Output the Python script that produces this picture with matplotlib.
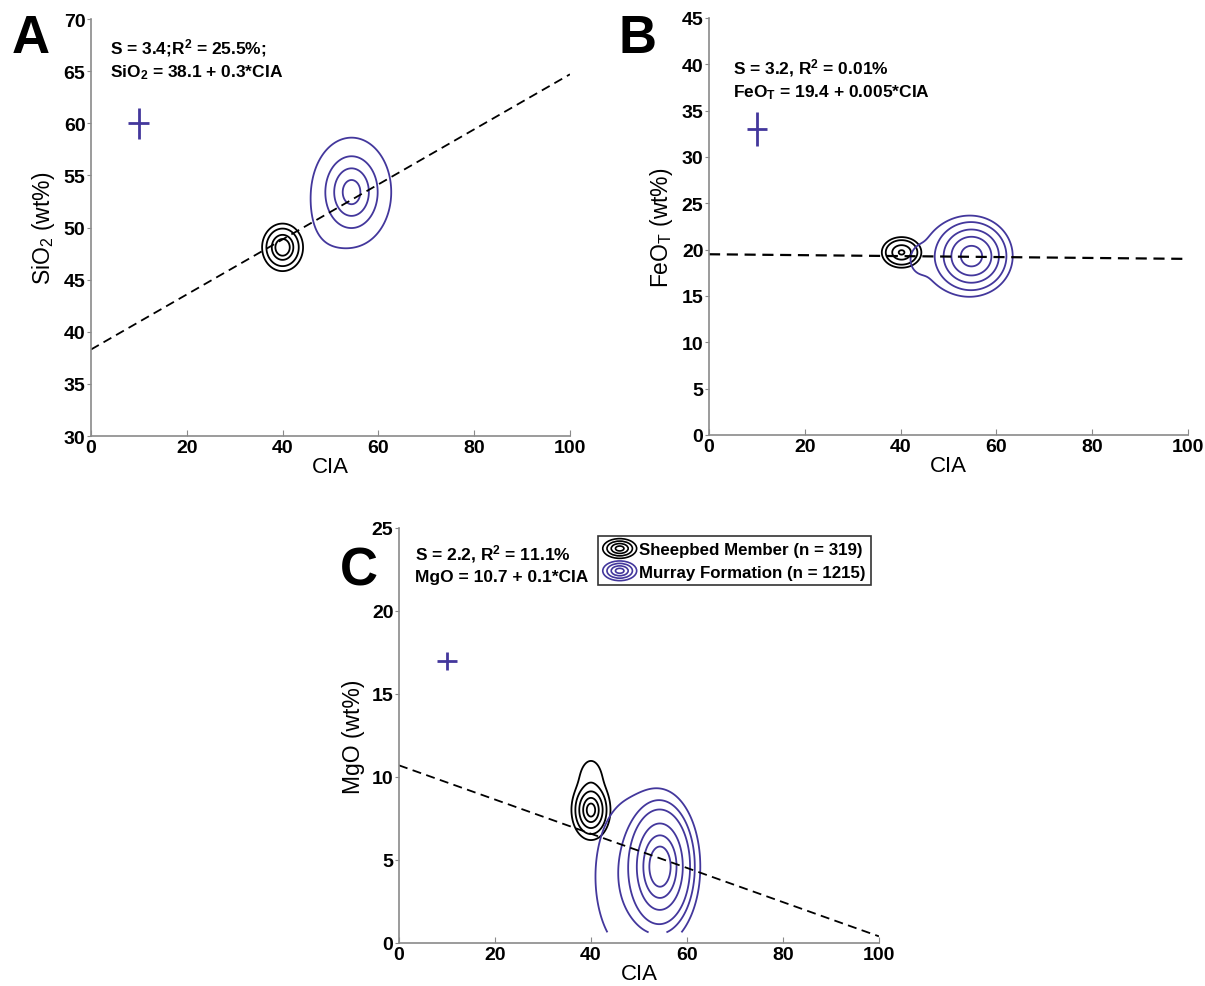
import numpy as np
import matplotlib
matplotlib.use("Agg")
import matplotlib.pyplot as plt
from matplotlib.lines import Line2D
from matplotlib.patches import Ellipse
from matplotlib.legend_handler import HandlerBase

plt.rcParams['font.family'] = ['Liberation Sans', 'DejaVu Sans']
plt.rcParams['mathtext.fontset'] = 'custom'
plt.rcParams['mathtext.rm'] = 'Liberation Sans'
plt.rcParams['mathtext.bf'] = 'Liberation Sans:bold'
plt.rcParams['mathtext.default'] = 'bf'

# ---- data ----
cia_ticks = [0, 20, 40, 60, 80, 100]
panel_letters = ['A', 'B', 'C']
y_labels = ['SiO$_\\mathrm{2}$ (wt%)', 'FeO$_\\mathrm{T}$ (wt%)', 'MgO (wt%)']
y_limits = [(30, 70), (0, 45), (0, 25)]
stats_line1 = ['S = 3.4;R$^2$ = 25.5%;', 'S = 3.2, R$^2$ = 0.01%', 'S = 2.2, R$^2$ = 11.1%']
stats_line2 = ['SiO$_2$ = 38.1 + 0.3*CIA', 'FeO$_T$ = 19.4 + 0.005*CIA', 'MgO = 10.7 + 0.1*CIA']
stats_xy = [(4.0, 67.3, 65.0), (5.0, 39.7, 37.1), (3.3, 23.5, 22.1)]

# fitted regression lines as drawn (value at CIA=0, slope)
fit_intercept = [38.3, 19.5, 10.7]
fit_slope = [0.264, -0.005, -0.103]

# analytical uncertainty crosses
cross_cia = [10, 10, 10]
cross_oxide = [60, 33, 17]
cross_cia_err = [2.2, 2.0, 2.0]
cross_oxide_err = [1.5, 1.8, 0.55]

# density components: (weight, CIA centre, oxide centre, CIA spread, oxide spread)
sheepbed_components = [
    [(1.0, 40.0, 48.1, 1.5, 0.8)],
    [(1.0, 40.2, 19.7, 1.5, 0.6)],
    [(1.0, 40.0, 8.0, 1.35, 0.6), (0.035, 40.0, 9.6, 1.6, 0.9)],
]
murray_components = [
    [(1.0, 54.4, 53.4, 2.3, 1.45), (0.003, 50.5, 51.0, 3.0, 2.0)],
    [(1.0, 54.8, 19.3, 2.6, 1.3), (0.008, 50.0, 19.2, 4.5, 2.4), (0.006, 44.0, 18.9, 1.5, 1.0)],
    [(1.0, 54.4, 4.6, 2.45, 1.34), (0.015, 49.0, 4.0, 4.5, 2.6)],
]
# contour levels (fraction of peak density)
sheepbed_levels = [
    [0.0173, 0.0796, 0.325, 0.607],
    [0.0228, 0.089, 0.43, 0.923],
    [0.011, 0.056, 0.198, 0.487, 0.81],
]
murray_levels = [
    [0.00153, 0.0603, 0.291, 0.726],
    [0.0043, 0.0198, 0.089, 0.278, 0.696],
    [0.003, 0.013, 0.039, 0.155, 0.375, 0.667],
]
grid_bottom = [30, 0, 0.64]

legend_labels = ['Sheepbed Member (n = 319)', 'Murray Formation (n = 1215)']

PURPLE = '#43379c'
AXIS_GREY = '#8a8a8a'


def density(components, X, Y):
    Z = np.zeros_like(X)
    for w, cx, cy, sx, sy in components:
        Z += w * np.exp(-0.5 * ((X - cx) / sx) ** 2 - 0.5 * ((Y - cy) / sy) ** 2)
    return Z / Z.max()


class RingsHandler(HandlerBase):
    def create_artists(self, legend, orig_handle, xdescent, ydescent,
                       width, height, fontsize, trans):
        cx = width / 2 - xdescent
        cy = height / 2 - ydescent
        out = []
        for k in (1.0, 0.75, 0.5, 0.25):
            e = Ellipse((cx, cy), width * k, height * 1.3 * k, fill=False,
                        edgecolor=orig_handle.get_color(), lw=1.2, transform=trans)
            out.append(e)
        return out


fig = plt.figure(figsize=(12.05, 9.87), dpi=100)
axes_rects = [
    [0.0755, 0.5572, 0.3975, 0.4225],
    [0.5884, 0.5583, 0.3975, 0.4225],
    [0.3311, 0.0436, 0.3983, 0.4205],
]
letter_xy = [(31, 39), (637, 39), (359, 572)]

for i in range(3):
    ax = fig.add_axes(axes_rects[i])
    y0, y1 = y_limits[i]
    xs = np.linspace(0, 100, 801)
    ys = np.linspace(grid_bottom[i], y1, 600)
    X, Y = np.meshgrid(xs, ys)

    ax.contour(X, Y, density(sheepbed_components[i], X, Y),
               levels=sheepbed_levels[i], colors='black', linewidths=1.3)
    ax.contour(X, Y, density(murray_components[i], X, Y),
               levels=murray_levels[i], colors=PURPLE, linewidths=1.3)

    fx = np.array([0, 100])
    ax.plot(fx, fit_intercept[i] + fit_slope[i] * fx, color='black',
            lw=1.6 if i == 1 else 1.3, dashes=(5, 3))

    ax.errorbar(cross_cia[i], cross_oxide[i], xerr=cross_cia_err[i],
                yerr=cross_oxide_err[i], color=PURPLE, lw=2, capsize=0)

    tx, ty1, ty2 = stats_xy[i]
    ax.text(tx, ty1, stats_line1[i], fontsize=12.5, fontweight='bold', va='center')
    ax.text(tx, ty2, stats_line2[i], fontsize=12.5, fontweight='bold', va='center')

    ax.set_xlim(0, 100)
    ax.set_ylim(y0, y1)
    ax.set_xticks(cia_ticks)
    ax.set_yticks(np.arange(y0, y1 + 1, 5))
    for s in ['top', 'right']:
        ax.spines[s].set_visible(False)
    for s in ['left', 'bottom']:
        ax.spines[s].set_color(AXIS_GREY)
        ax.spines[s].set_linewidth(1.2)
    ax.tick_params(axis='x', direction='in', length=4, pad=2, color=AXIS_GREY,
                   labelsize=14)
    ax.tick_params(axis='y', direction='out', length=3, pad=1, color=AXIS_GREY,
                   labelsize=14)
    for lab in ax.get_xticklabels() + ax.get_yticklabels():
        lab.set_fontweight('bold')
    ax.set_xlabel('CIA', fontsize=16, labelpad=0)
    ax.set_ylabel(y_labels[i], fontsize=16.5, labelpad=5)

    lx, ly = letter_xy[i]
    fig.text(lx / 1205, 1 - ly / 987, panel_letters[i], fontsize=38,
             fontweight='bold', ha='center', va='center')

    if i == 2:
        handles = [Line2D([], [], color='black'), Line2D([], [], color=PURPLE)]
        leg = ax.legend(handles, legend_labels, handler_map={Line2D: RingsHandler()},
                        loc='upper left', bbox_to_anchor=(0.414, 0.981),
                        frameon=True, fancybox=False, edgecolor='black',
                        prop={'weight': 'bold', 'size': 12.2}, borderpad=0.3,
                        handlelength=2.0, handleheight=1.0, handletextpad=0.15,
                        labelspacing=0.35, borderaxespad=0)
        leg.get_frame().set_linewidth(1.2)

fig.savefig('out.png', dpi=100)
